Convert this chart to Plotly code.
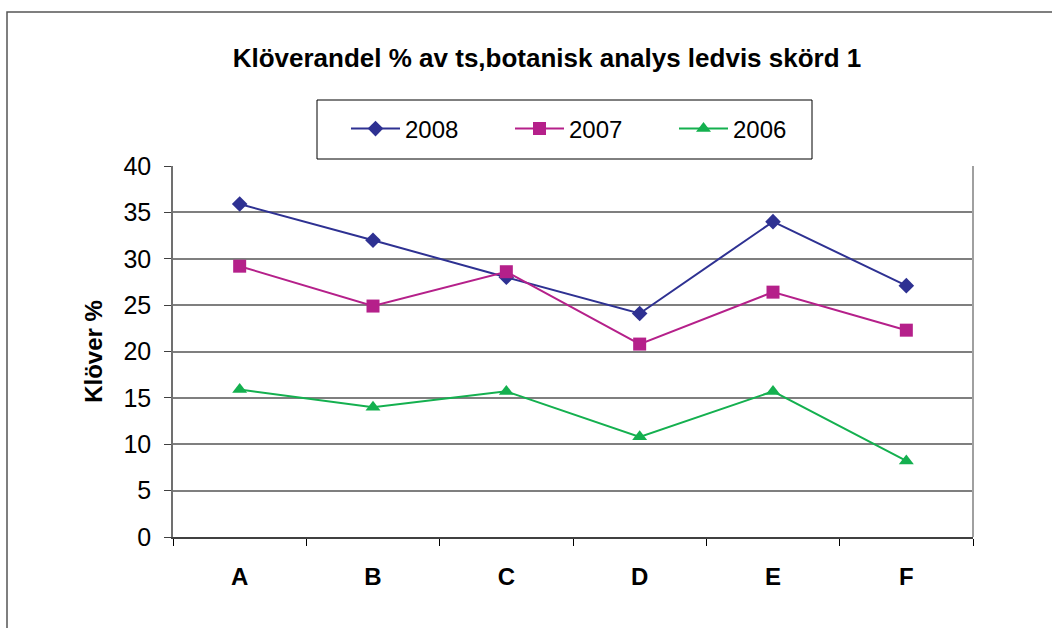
import plotly.graph_objects as go

categories = ["A", "B", "C", "D", "E", "F"]
y2008 = [35.9, 32.0, 28.0, 24.1, 34.0, 27.1]
y2007 = [29.2, 24.9, 28.6, 20.8, 26.4, 22.3]
y2006 = [15.9, 14.0, 15.7, 10.8, 15.7, 8.2]
series_names = ["2008", "2007", "2006"]
yticks = [0, 5, 10, 15, 20, 25, 30, 35, 40]

FONT = "Liberation Sans, Arial, sans-serif"

# plot area in pixels
L, R, T, B = 173, 973, 166, 537
W, H = 1052, 628
PW, PH = R - L, B - T

def px_x(x):
    return (x - L) / PW

def px_y(y):
    return (B - y) / PH

fig = go.Figure()
fig.add_trace(go.Scatter(x=categories, y=y2008, name=series_names[0], mode="lines+markers",
                         line=dict(color="#2E3192", width=2),
                         marker=dict(symbol="diamond", size=12, color="#2E3192")))
fig.add_trace(go.Scatter(x=categories, y=y2007, name=series_names[1], mode="lines+markers",
                         line=dict(color="#B5208A", width=2),
                         marker=dict(symbol="square", size=13, color="#B5208A")))
fig.add_trace(go.Scatter(x=categories, y=y2006, name=series_names[2], mode="lines+markers",
                         line=dict(color="#14B04F", width=2),
                         marker=dict(symbol="triangle-up", size=13, color="#14B04F")))

fig.update_layout(
    width=W, height=H,
    margin=dict(l=L, r=W - R, t=T, b=H - B),
    paper_bgcolor="white", plot_bgcolor="white",
    font=dict(family=FONT, color="black"),
    title=dict(text="<b>Klöverandel % av ts,botanisk analys ledvis skörd 1</b>",
               x=547 / W, xanchor="center", y=1 - 58 / H, yanchor="middle",
               font=dict(size=26, family=FONT)),
    showlegend=True,
    legend=dict(orientation="h", x=px_x(346), xanchor="left", y=px_y(129), yanchor="middle",
                borderwidth=0, bgcolor="rgba(0,0,0,0)",
                font=dict(size=24, family=FONT), entrywidth=100, entrywidthmode="pixels",
                itemwidth=49),
    xaxis=dict(type="category", range=[-0.5, 5.5], tickson="boundaries", ticks="outside",
               ticklen=7, tickcolor="black", showline=True, linecolor="#404040", linewidth=2,
               showgrid=False, tickfont=dict(size=24, family=FONT),
               tickprefix="<b>", ticksuffix="</b>", ticklabelstandoff=17),
    yaxis=dict(range=[0, 40], tickvals=yticks, ticks="outside", ticklen=7, tickcolor="#404040",
               showline=True, linecolor="#707070", linewidth=1.5,
               showgrid=True, gridcolor="#7F7F7F", gridwidth=2,
               tickfont=dict(size=25, family=FONT), ticklabelstandoff=8,
               title=dict(text="<b>Klöver %</b>", font=dict(size=24, family=FONT), standoff=14),
               zeroline=False),
)

# plot-area right border
fig.add_shape(type="line", xref="paper", yref="paper", x0=1, x1=1, y0=0, y1=1,
              line=dict(color="#A0A0A0", width=2))
# legend box
fig.add_shape(type="rect", xref="paper", yref="paper",
              x0=px_x(317), x1=px_x(812), y0=px_y(159), y1=px_y(100),
              line=dict(color="black", width=1), fillcolor="white", layer="below")
# outer chart frame
fig.add_shape(type="rect", xref="paper", yref="paper",
              x0=px_x(7), x1=px_x(1200), y0=px_y(900), y1=px_y(12),
              line=dict(color="#555555", width=1.5), layer="below")

fig.write_html("out.html", config={"displayModeBar": False},
               post_script="document.body.style.margin='0';")
